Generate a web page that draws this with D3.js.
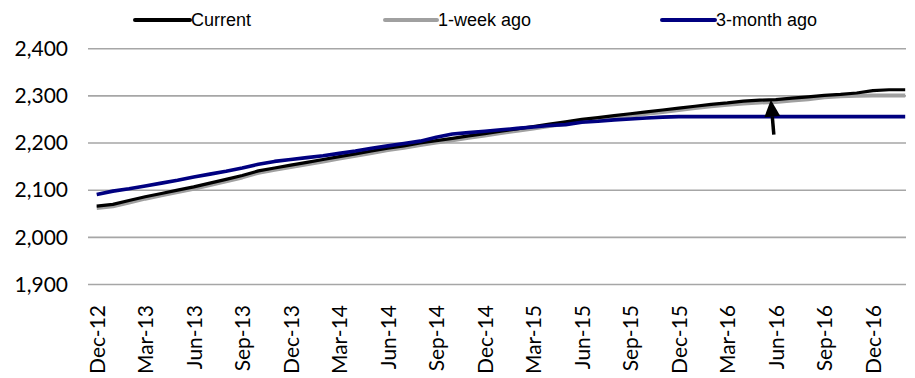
<!DOCTYPE html>
<html>
<head>
<meta charset="utf-8">
<script src="https://cdn.jsdelivr.net/npm/d3@7"></script>
<style>
  html, body { margin: 0; padding: 0; background: #fff; }
  svg { display: block; }
  .tick-label { font-family: Lato, "Open Sans", sans-serif; font-size: 21px; fill: #000; }
  .legend-label { font-family: "Liberation Sans", Arial, sans-serif; font-size: 18px; fill: #000; }
</style>
</head>
<body>
<svg id="chart" width="915" height="378"></svg>
<script>
// Monthly observations, Dec-12 through Feb-17
const months = [
  "Dec-12","Jan-13","Feb-13","Mar-13","Apr-13","May-13","Jun-13","Jul-13","Aug-13","Sep-13","Oct-13","Nov-13",
  "Dec-13","Jan-14","Feb-14","Mar-14","Apr-14","May-14","Jun-14","Jul-14","Aug-14","Sep-14","Oct-14","Nov-14",
  "Dec-14","Jan-15","Feb-15","Mar-15","Apr-15","May-15","Jun-15","Jul-15","Aug-15","Sep-15","Oct-15","Nov-15",
  "Dec-15","Jan-16","Feb-16","Mar-16","Apr-16","May-16","Jun-16","Jul-16","Aug-16","Sep-16","Oct-16","Nov-16",
  "Dec-16","Jan-17","Feb-17"
];

const current = [
  2066, 2070, 2078, 2086, 2093, 2100, 2107, 2115, 2123, 2131, 2141, 2147,
  2153, 2159, 2165, 2171, 2177, 2183, 2189, 2194, 2200, 2205, 2210, 2215,
  2220, 2225, 2230, 2235, 2240, 2245, 2250, 2254, 2258, 2262, 2266, 2270,
  2274, 2278, 2282, 2285, 2289, 2291, 2292, 2295, 2298, 2301, 2303, 2306,
  2311, 2313, 2313
];

const weekAgo = [
  2062, 2066, 2074, 2082, 2089, 2096, 2103, 2111, 2119, 2127, 2137, 2143,
  2149, 2155, 2161, 2167, 2173, 2179, 2185, 2190, 2196, 2201, 2206, 2211,
  2216, 2221, 2226, 2231, 2236, 2241, 2246, 2250, 2254, 2258, 2262, 2266,
  2270, 2274, 2278, 2281, 2284, 2286, 2287, 2290, 2293, 2297, 2299, 2300,
  2301, 2301, 2301
];

const threeMonthAgo = [
  2091, 2098, 2103, 2109, 2115, 2121, 2128, 2134, 2140, 2147, 2155, 2161,
  2165, 2169, 2173, 2178, 2183, 2189, 2194, 2199, 2204, 2212, 2219, 2222,
  2225, 2228, 2231, 2234, 2237, 2239, 2244, 2246, 2249, 2251, 2253, 2255,
  2256, 2256, 2256, 2256, 2256, 2256, 2256, 2256, 2256, 2256, 2256, 2256,
  2256, 2256, 2256
];

const yTicks = [1900, 2000, 2100, 2200, 2300, 2400];
const xTickLabels = months.filter((m, i) => i % 3 === 0);

const seriesNames = ["Current", "1-week ago", "3-month ago"];
const seriesColors = ["#000000", "#a0a0a0", "#000080"];

// Arrow annotation: points up at the current line in Jun-16
const arrowMonth = "Jun-16";
const arrowBaseValue = 2218;

const svg = d3.select("#chart");
const plot = { left: 88, right: 906, top: 48.7, bottom: 284.5 };

const x = d3.scalePoint()
  .domain(months)
  .range([96.7, 96.7 + 16.17 * (months.length - 1)]);

const y = d3.scaleLinear()
  .domain([1900, 2400])
  .range([plot.bottom, plot.top]);

// Horizontal gridlines
svg.append("g")
  .selectAll("line")
  .data(yTicks)
  .join("line")
  .attr("x1", plot.left)
  .attr("x2", plot.right)
  .attr("y1", d => y(d))
  .attr("y2", d => y(d))
  .attr("stroke", "#a6a6a6")
  .attr("stroke-width", 1.6);

// Y axis labels
const yAxis = d3.axisLeft(y).tickValues(yTicks).tickFormat(d3.format(",")).tickSize(0).tickPadding(0);
const yG = svg.append("g").attr("transform", "translate(68,0)").call(yAxis);
yG.select(".domain").remove();
yG.selectAll("text").attr("class", "tick-label").attr("font-family", null).attr("font-size", null);

// X axis labels (rotated)
const xAxis = d3.axisBottom(x).tickValues(xTickLabels).tickSize(0).tickPadding(0);
const xG = svg.append("g").attr("transform", "translate(0,305)").call(xAxis);
xG.select(".domain").remove();
xG.selectAll("text")
  .attr("class", "tick-label")
  .attr("font-family", null).attr("font-size", null)
  .attr("y", 0).attr("x", 0)
  .attr("dy", "0.36em")
  .attr("transform", "rotate(-90)")
  .style("text-anchor", "end");

// Series lines
const allSeries = [
  { name: seriesNames[1], values: weekAgo, color: seriesColors[1], width: 4 },
  { name: seriesNames[0], values: current, color: seriesColors[0], width: 3.2 },
  { name: seriesNames[2], values: threeMonthAgo, color: seriesColors[2], width: 3.6 }
];

const line = d3.line()
  .defined(d => d.v != null)
  .x(d => x(d.m))
  .y(d => y(d.v));

svg.append("g")
  .selectAll("path")
  .data(allSeries)
  .join("path")
  .attr("d", s => line(months.map((m, i) => ({ m, v: s.values[i] }))))
  .attr("fill", "none")
  .attr("stroke", s => s.color)
  .attr("stroke-width", s => s.width)
  .attr("stroke-linejoin", "round");

// Arrow
const ai = months.indexOf(arrowMonth);
const tipX = x(arrowMonth) - 5, tipY = y(current[ai]);
const baseX = tipX + 3, baseY = y(arrowBaseValue);
const ang = Math.atan2(tipY - baseY, tipX - baseX);
const headLen = 17, headHalf = 8;
const hx = tipX - headLen * Math.cos(ang), hy = tipY - headLen * Math.sin(ang);
const px = -Math.sin(ang), py = Math.cos(ang);
svg.append("line")
  .attr("x1", baseX).attr("y1", baseY)
  .attr("x2", hx).attr("y2", hy)
  .attr("stroke", "#000").attr("stroke-width", 3.5);
svg.append("path")
  .attr("d", `M${tipX},${tipY}L${hx + px * headHalf},${hy + py * headHalf}L${hx - px * headHalf},${hy - py * headHalf}Z`)
  .attr("fill", "#000");

// Legend
const legendItems = [
  { name: seriesNames[0], color: seriesColors[0], x0: 135, x1: 190 },
  { name: seriesNames[1], color: seriesColors[1], x0: 385, x1: 437 },
  { name: seriesNames[2], color: seriesColors[2], x0: 662, x1: 715 }
];
const lg = svg.append("g").selectAll("g").data(legendItems).join("g");
lg.append("line")
  .attr("x1", d => d.x0).attr("x2", d => d.x1)
  .attr("y1", 20).attr("y2", 20)
  .attr("stroke", d => d.color).attr("stroke-width", 4).attr("stroke-linecap", "round");
lg.append("text")
  .attr("class", "legend-label")
  .attr("x", d => d.x1 + 1)
  .attr("y", 26)
  .text(d => d.name);
</script>
</body>
</html>
